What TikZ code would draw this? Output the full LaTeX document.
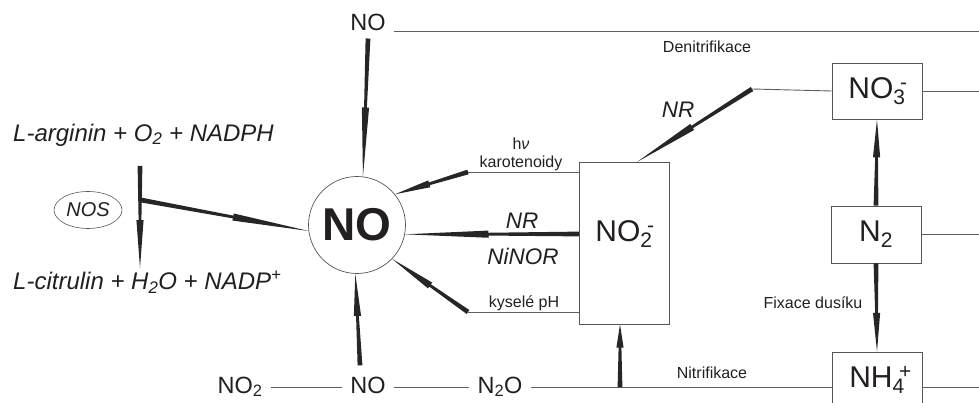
\documentclass[tikz,border=0pt]{standalone}
\usepackage{fontspec}
\setmainfont{Liberation Sans}
\usetikzlibrary{calc,shapes.geometric}
\definecolor{txt}{HTML}{231F20}
\definecolor{linegray}{HTML}{5E5E5E}
\definecolor{boxgray}{HTML}{555555}
\definecolor{arrowcol}{HTML}{262626}
\newcommand\sbsp[2]{\rlap{\kern0.22em\textsuperscript{#2}}\textsubscript{#1}}
% tapered arrow: #1 = barb position, #2 = wide start, #3 = tip
\newcommand\taper[3][0.5]{%
  \fill[arrowcol] ($(#2)!2.4pt!90:(#3)$) -- ($(#2)!#1!(#3)!1.4pt!90:(#3)$) -- ($(#2)!#1!(#3)!3.6pt!90:(#3)$) -- (#3)
    -- ($(#2)!#1!(#3)!3.6pt!-90:(#3)$) -- ($(#2)!#1!(#3)!1.4pt!-90:(#3)$) -- ($(#2)!2.4pt!-90:(#3)$) -- cycle;}
\begin{document}
\begin{tikzpicture}[x=1pt,y=-1pt,
  thinline/.style={draw=linegray, line width=0.9pt},
  chembox/.style={draw=boxgray, line width=0.9pt, rectangle, fill=white, inner sep=0pt,
    minimum width=90pt, minimum height=56pt, text=txt, font=\fontsize{30}{30}\selectfont},
  chemlbl/.style={text=txt, inner sep=8pt, font=\fontsize{23.5}{23.5}\selectfont},
  smalllbl/.style={text=txt, inner sep=0pt, font=\fontsize{16}{18}\selectfont},
  enzlbl/.style={text=txt, inner sep=0pt, font=\fontsize{22.5}{22.5}\selectfont\itshape},
  reactlbl/.style={text=txt, inner sep=0pt, anchor=west, font=\fontsize{24}{24}\selectfont\itshape},
  bigno/.style={circle, draw=boxgray, line width=0.7pt, fill=white, minimum size=97pt, inner sep=0pt,
    text=txt, font=\fontsize{46}{46}\selectfont\bfseries}]
\useasboundingbox (0,0) rectangle (979,403);
\clip (0,0) rectangle (979,403);

% coordinates for edges
\coordinate (re) at (979,0);
\coordinate (ly) at (0,387);

% main nodes
\node[bigno] (no) at (357,225) {NO};
\node[chembox, minimum height=162pt] (no2box) at (624,243) {};
\node[text=txt, inner sep=0pt, font=\fontsize{30}{30}\selectfont] (no2lbl) at (624,234) {NO\sbsp{2}{-}};
\node[chembox] (no3) at (877,91) {NO\sbsp{3}{-}};
\node[chembox, minimum height=57pt] (n2) at (876,234.5) {N\textsubscript{2}};
\node[chembox] (nh4) at (877,380) {NH\sbsp{4}{+}};

\node[chemlbl] (topno) at (368,22) {NO};
\node[chemlbl, anchor=base] (bno2) at (240,393) {NO\textsubscript{2}};
\node[chemlbl, anchor=base] (bno) at (368,393) {NO};
\node[chemlbl, anchor=base] (bn2o) at (500,393) {N\textsubscript{2}O};

% left reaction
\node[reactlbl] (arg) at (13,135) {L-arginin + O\textsubscript{2} + NADPH};
\node[reactlbl] (cit) at (13,282) {L-citrulin + H\textsubscript{2}O + NADP\textsuperscript{+}};
\node[draw=boxgray, line width=0.6pt, ellipse, minimum width=68pt, minimum height=37pt, inner sep=0pt,
  text=txt, font=\fontsize{20}{20}\selectfont\itshape] (nos) at (88,210) {NOS};
\coordinate (lt) at (140,166);
\coordinate (lb) at (140,268);
\coordinate (lj) at (141,200);
\taper[0.53]{lt}{lb}
\taper[0.55]{lj}{no.187}

% top
\draw[thinline] (topno.east |- 0,31) -- (re |- 0,31);
\taper[0.5]{topno.south}{no.83}
\node[smalllbl] (denit) at (707,47) {Denitrifikace};

% karotenoidy
\coordinate (k1) at (468,172);
\draw[thinline] (k1) -- (k1 -| no2box.west);
\taper[0.53]{k1}{no.39}
\node[smalllbl, align=center] (hv) at (521,154) {h\textit{ν}\\karotenoidy};

% NR / NiNOR
\coordinate (nr1) at (579,234);
\taper[0.52]{nr1}{no.-11}
\node[enzlbl] (nrlbl) at (522,221) {NR};
\node[enzlbl] (ninor) at (523,256) {NiNOR};

% kysele pH
\coordinate (k2) at (468,312);
\draw[thinline] (k2) -- (k2 -| no2box.west);
\taper[0.5]{k2}{no.-44}
\node[smalllbl] (kph) at (524,303) {kyselé pH};

% NR diagonal
\coordinate (nd) at (752,89);
\coordinate (ndt) at (637,162);
\draw[thinline] (nd) -- (no3.west);
\taper[0.52]{nd}{ndt}
\node[enzlbl] (nr2) at (678,110) {NR};

% right column
\draw[thinline] (no3.east) -- (no3.east -| re);
\draw[thinline] (n2.east) -- (n2.east -| re);
\draw[thinline] (nh4.east |- ly) -- (re |- ly);
\taper[0.56]{n2.north}{no3.south}
\taper[0.56]{n2.south}{nh4.north}
\node[smalllbl] (fix) at (813,303) {Fixace dusíku};

% bottom row
\draw[thinline] (bno2.east |- ly) -- (bno.west |- ly);
\draw[thinline] (bno.east |- ly) -- (bn2o.west |- ly);
\draw[thinline] (bn2o.east |- ly) -- (nh4.west |- ly);
\coordinate (bu) at ($(bno.north)+(-8,-3)$);
\taper[0.54]{bu}{no.-92}
\coordinate (b1) at (620,387);
\coordinate (b2) at (b1 |- no2box.south);
\taper[0.63]{b1}{b2}
\node[smalllbl] (nitr) at (712,373) {Nitrifikace};
\end{tikzpicture}
\end{document}
